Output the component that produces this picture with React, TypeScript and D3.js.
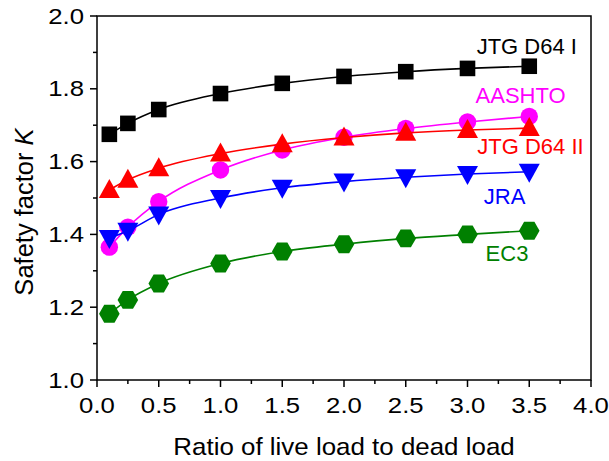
import React from 'react';
import * as d3 from 'd3';

// load ratio (live / dead)
const ratios = [0.1, 0.25, 0.5, 1.0, 1.5, 2.0, 2.5, 3.0, 3.5];

const jtgD64I = [1.675, 1.705, 1.743, 1.787, 1.815, 1.834, 1.847, 1.856, 1.862];
const aashto = [1.365, 1.42, 1.49, 1.577, 1.632, 1.667, 1.691, 1.709, 1.724];
const jtgD64II = [1.522, 1.55, 1.582, 1.622, 1.648, 1.666, 1.679, 1.687, 1.692];
const jra = [1.39, 1.41, 1.455, 1.5, 1.528, 1.545, 1.557, 1.566, 1.572];
const ec3 = [1.182, 1.22, 1.265, 1.32, 1.353, 1.373, 1.389, 1.4, 1.41];

const seriesNames = ['JTG D64 I', 'AASHTO', 'JTG D64 II', 'JRA', 'EC3'];
const seriesColors = ['#000000', '#ff00ff', '#ff0000', '#0000ff', '#008000'];
const seriesShapes = ['square', 'circle', 'triangle', 'down', 'hexagon'];
// label anchor (centre x, baseline y) in data units
const labelPos = [[3.48, 1.896], [3.43, 1.761], [3.51, 1.621], [3.3, 1.484], [3.32, 1.327]];

const xTicks = [0, 0.5, 1, 1.5, 2, 2.5, 3, 3.5, 4];
const yTicks = [1.0, 1.2, 1.4, 1.6, 1.8, 2.0];

const width = 609;
const height = 461;
const margin = { top: 16, right: 18, bottom: 81, left: 97 };
const font = 'Arial, "Liberation Sans", sans-serif';

function Marker({ shape, cx, cy, color }: { shape: string; cx: number; cy: number; color: string }) {
  if (shape === 'square') {
    return <rect x={cx - 7.8} y={cy - 7.8} width={15.6} height={15.6} fill={color} />;
  }
  if (shape === 'circle') {
    return <circle cx={cx} cy={cy} r={8.7} fill={color} />;
  }
  if (shape === 'triangle') {
    return <path d={`M${cx},${cy - 11}L${cx + 10.5},${cy + 8}L${cx - 10.5},${cy + 8}Z`} fill={color} />;
  }
  if (shape === 'down') {
    return <path d={`M${cx},${cy + 11}L${cx + 10.5},${cy - 8}L${cx - 10.5},${cy - 8}Z`} fill={color} />;
  }
  const r = 10.3;
  const pts = d3.range(6).map(i => {
    const a = (Math.PI / 3) * i;
    return [cx + r * Math.cos(a), cy + r * Math.sin(a)];
  });
  return <path d={'M' + pts.map(p => p.join(',')).join('L') + 'Z'} fill={color} />;
}

export default function App() {
  const x = d3.scaleLinear().domain([0, 4]).range([margin.left, width - margin.right]);
  const y = d3.scaleLinear().domain([1, 2]).range([height - margin.bottom, margin.top]);
  const xMinor = d3.range(0, 4.001, 0.25);
  const yMinor = d3.range(1, 2.001, 0.1);
  const all = [jtgD64I, aashto, jtgD64II, jra, ec3];
  const line = d3.line<number>()
    .x((_, i) => x(ratios[i]))
    .y(d => y(d))
    .curve(d3.curveMonotoneX);

  const x0 = x(0), x1 = x(4), y0 = y(1), y1 = y(2);

  return (
    <svg width={width} height={height} style={{ position: 'absolute', left: 0, top: 0, background: '#fff' }}>
      {/* frame */}
      <rect x={x0} y={y1} width={x1 - x0} height={y0 - y1} fill="none" stroke="#000" strokeWidth={1.5} />

      {/* x ticks */}
      {xMinor.map((t, i) => (
        <line key={'xm' + i} x1={x(t)} x2={x(t)} y1={y0} y2={y0 + (i % 2 === 0 ? 7 : 4)} stroke="#000" strokeWidth={1.5} />
      ))}
      {xTicks.map(t => (
        <text key={'xt' + t} transform={`translate(${x(t)},${y0 + 33}) scale(1.17,1)`} textAnchor="middle" fontFamily={font} fontSize={22}>
          {t.toFixed(1)}
        </text>
      ))}

      {/* y ticks */}
      {yMinor.map((t, i) => (
        <line key={'ym' + i} x1={x0} x2={x0 - (i % 2 === 0 ? 7 : 4)} y1={y(t)} y2={y(t)} stroke="#000" strokeWidth={1.5} />
      ))}
      {yTicks.map(t => (
        <text key={'yt' + t} transform={`translate(${x0 - 13},${y(t) + 7.5}) scale(1.17,1)`} textAnchor="end" fontFamily={font} fontSize={22}>
          {t.toFixed(1)}
        </text>
      ))}

      {/* axis titles */}
      <text transform={`translate(344,455) scale(1.08,1)`} textAnchor="middle" fontFamily={font} fontSize={24}>
        Ratio of live load to dead load
      </text>
      <text transform={`translate(33,212) rotate(-90)`} textAnchor="middle" fontFamily={font} fontSize={25.5}>
        Safety factor <tspan fontStyle="italic">K</tspan>
      </text>

      {/* series */}
      {all.map((vals, s) => (
        <g key={'s' + s}>
          <path d={line(vals) || ''} fill="none" stroke={seriesColors[s]} strokeWidth={1.6} />
          {vals.map((v, i) => (
            <Marker key={i} shape={seriesShapes[s]} cx={x(ratios[i])} cy={y(v)} color={seriesColors[s]} />
          ))}
          <text x={x(labelPos[s][0])} y={y(labelPos[s][1])} textAnchor="middle" fill={seriesColors[s]} fontFamily={font} fontSize={22}>
            {seriesNames[s]}
          </text>
        </g>
      ))}
    </svg>
  );
}
